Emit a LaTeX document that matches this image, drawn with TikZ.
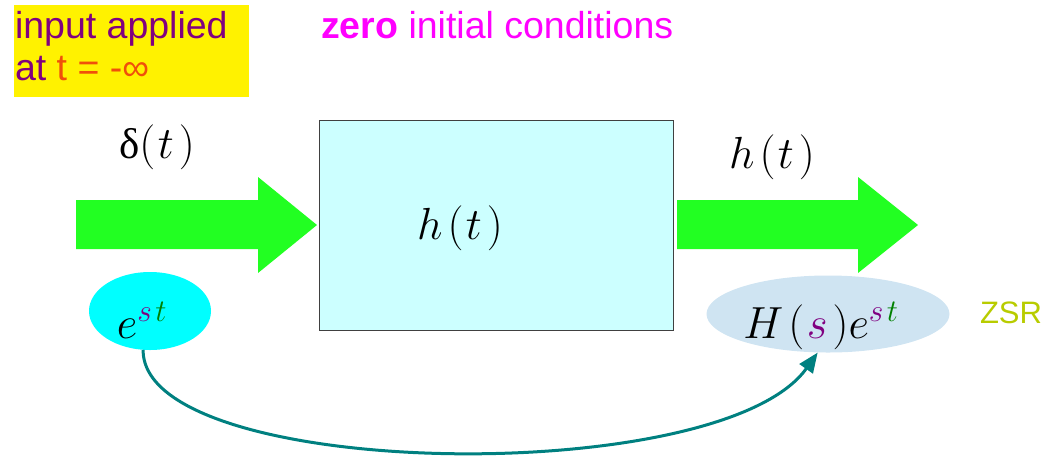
\documentclass[tikz,border=0pt]{standalone}
\usepackage{fix-cm}
\usepackage[no-math]{fontspec}
\setmainfont{Liberation Sans}
\newfontfamily\serifup{Liberation Serif}
\usetikzlibrary{arrows.meta,shapes.geometric}
\definecolor{arrgreen}{HTML}{22FF22}
\definecolor{boxcyan}{HTML}{CCFFFF}
\definecolor{incyan}{HTML}{00FFFF}
\definecolor{outblue}{HTML}{CFE4F2}
\definecolor{curveteal}{HTML}{008080}
\definecolor{notepurple}{HTML}{800080}
\definecolor{noteorange}{HTML}{F0500A}
\definecolor{zsrgreen}{HTML}{B8CC00}
\definecolor{supgreen}{HTML}{008000}
\definecolor{titlemag}{HTML}{FF00FF}
\tikzset{
  txt/.style={inner sep=0pt, outer sep=0pt},
  bigtxt/.style={txt, font=\fontsize{37.5}{44}\selectfont},
  mathtxt/.style={txt, font=\fontsize{45}{52}\selectfont},
  greenarrow/.style={fill=arrgreen},
}
\begin{document}
\begin{tikzpicture}[x=1pt,y=-1pt]
\useasboundingbox (0,0) rectangle (1060,456);
% note box
\node[fill=yellow, minimum width=235pt, minimum height=92pt, anchor=north west, inner sep=0pt, outer sep=0pt] (note) at (14,5) {};
\node[bigtxt, anchor=base west, text=notepurple] (note1) at (15,38) {input applied};
\node[bigtxt, anchor=base west, text=notepurple] (note2) at (15,80) {at \textcolor{noteorange}{t = -∞}};
% title
\node[bigtxt, anchor=base west, text=titlemag] (title) at (321,38) {\textbf{zero} initial conditions};
% system box
\node[draw=black!75, line width=0.8pt, fill=boxcyan, minimum width=354pt, minimum height=210pt, anchor=north west, inner sep=0pt] (sys) at (319,120) {};
\node[mathtxt, anchor=base] (sysl) at (460,239) {$h\mkern2mu(\mkern1mu t\mkern2mu)$};
% arrows
\fill[greenarrow] (76,200) -- (258,200) -- (258,177) -- (317,225) -- (258,273) -- (258,249) -- (76,249) -- cycle;
\fill[greenarrow] (677,200) -- (858,200) -- (858,177) -- (918,225) -- (858,273) -- (858,249) -- (677,249) -- cycle;
\node[mathtxt, anchor=base] (inl) at (157,158) {{\serifup\fontsize{43}{48}\selectfont δ}$(\mkern1mu t\mkern2mu)$};
\node[mathtxt, anchor=base] (outl) at (772,168) {$h\mkern2mu(\mkern1mu t\mkern2mu)$};
% ellipses
\node[ellipse, fill=incyan, minimum width=122pt, minimum height=78pt, inner sep=0pt] (in) at (150,311) {};
\node[ellipse, fill=outblue, minimum width=243pt, minimum height=77pt, inner sep=0pt] (out) at (828,314) {};
\node[mathtxt, anchor=base] (inm) at (142,338) {$e^{\textcolor{notepurple}{s}\mkern2mu\textcolor{supgreen}{t}}$};
\node[mathtxt, anchor=base] (outm) at (821,338) {$H\mkern2mu(\mkern1mu\textcolor{notepurple}{s}\mkern2mu)e^{\textcolor{notepurple}{s}\mkern2mu\textcolor{supgreen}{t}}$};
\node[txt, anchor=base west, text=zsrgreen, font=\fontsize{31}{36}\selectfont] (zsr) at (980,323) {ZSR};
% curve
\draw[curveteal, line width=3pt, -{Triangle[length=20pt,width=16pt]}] (in.260) .. controls (142,480) and (720,490) .. (out.255);
\end{tikzpicture}
\end{document}
